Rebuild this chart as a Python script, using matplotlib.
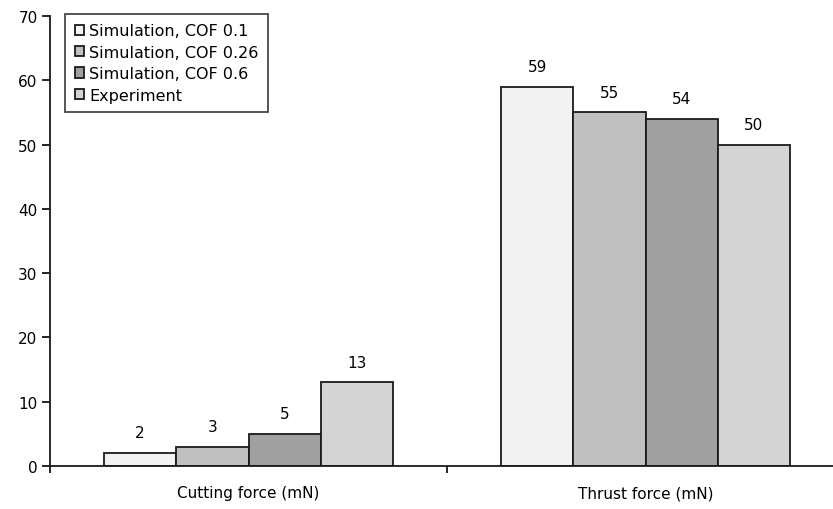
import matplotlib
matplotlib.use('Agg')
import matplotlib.pyplot as plt
import numpy as np

plt.rcParams['font.family'] = ['DejaVu Sans']

categories = ['Cutting force (mN)', 'Thrust force (mN)']
series = ['Simulation, COF 0.1', 'Simulation, COF 0.26', 'Simulation, COF 0.6', 'Experiment']
values = {
    'Simulation, COF 0.1': [2, 59],
    'Simulation, COF 0.26': [3, 55],
    'Simulation, COF 0.6': [5, 54],
    'Experiment': [13, 50],
}
colors = ['#f2f2f2', '#c0c0c0', '#a0a0a0', '#d4d4d4']

fig = plt.figure(figsize=(8.33, 5.10), dpi=100)
ax = fig.add_axes([50 / 833, 43 / 510, 794 / 833, 450 / 510])

x = np.arange(len(categories))
w = 0.182
for i, (name, col) in enumerate(zip(series, colors)):
    pos = x + (i - 1.5) * w
    bars = ax.bar(pos, values[name], w, color=col, edgecolor='#1a1a1a',
                  linewidth=1.3, label=name, zorder=2)
    for b, v in zip(bars, values[name]):
        ax.text(b.get_x() + b.get_width() / 2, v + 2.0, str(v),
                ha='center', va='bottom', fontsize=11)

ax.set_xlim(-0.5, 1.5)
ax.set_ylim(0, 70)
ax.set_yticks(range(0, 71, 10))
ax.set_xticks([-0.5, 0.5, 1.5])
ax.set_xticklabels([])
ax.set_xticks(x, minor=True)
ax.set_xticklabels(categories, minor=True, fontsize=11)
ax.tick_params(axis='x', which='minor', length=0, pad=14)
ax.tick_params(axis='x', which='major', length=5, width=1.2, direction='out')
ax.tick_params(axis='y', length=6, width=1.2, direction='out', labelsize=11, pad=3)

for s in ['top', 'right']:
    ax.spines[s].set_visible(False)
for s in ['left', 'bottom']:
    ax.spines[s].set_linewidth(1.3)
    ax.spines[s].set_color('#1a1a1a')

leg = ax.legend(loc='upper left', bbox_to_anchor=(15 / 794, 1.005), fontsize=11.5,
                frameon=True, fancybox=False, handlelength=0.6, handleheight=0.6,
                handletextpad=0.3, labelspacing=0.4, borderpad=0.6, borderaxespad=0)
leg.get_frame().set_edgecolor('#1a1a1a')
leg.get_frame().set_linewidth(1.3)

fig.savefig('out.png', dpi=100)
